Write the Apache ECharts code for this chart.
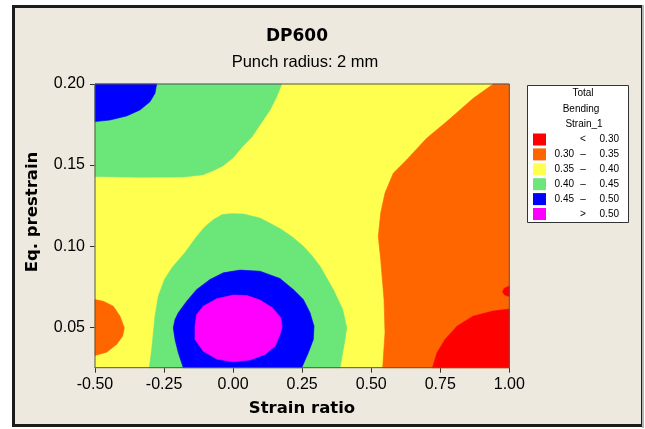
<!DOCTYPE html>
<html>
<head>
<meta charset="utf-8">
<script src="https://cdn.jsdelivr.net/npm/echarts@6/dist/echarts.min.js"></script>
<style>
  html, body { margin: 0; padding: 0; background: #ffffff; }
  #chart { width: 645px; height: 429px; }
</style>
</head>
<body>
<div id="chart"></div>
<script>
// Axis extents and ticks
const strainRatioRange = [-0.5, 1.0];
const prestrainRange = [0.025, 0.2];
const strainRatioTicks = [-0.5, -0.25, 0, 0.25, 0.5, 0.75, 1.0];
const prestrainTicks = [0.05, 0.10, 0.15, 0.20];

// Contour bands of Total Bending Strain_1
const bandColors = ['#FF0000', '#FF6600', '#FFFF50', '#6BE678', '#0000FF', '#FF00FF'];
const bandLow = ['', '0.30', '0.35', '0.40', '0.45', ''];
const bandSign = ['<', '\u2013', '\u2013', '\u2013', '\u2013', '>'];
const bandHigh = ['0.30', '0.35', '0.40', '0.45', '0.50', '0.50'];

// Region outlines as [strain ratio, eq. prestrain]
const greenTopLeft = [
  [-0.5, 0.2], [0.176, 0.2], [0.158, 0.1922], [0.1336, 0.184], [0.0974, 0.1748],
  [0.0684, 0.1674], [0.034, 0.1614], [0.0, 0.1545], [-0.0366, 0.1495],
  [-0.0728, 0.1465], [-0.109, 0.144], [-0.1814, 0.1426], [-0.3371, 0.1425], [-0.5, 0.1429]
];
const blueTopLeft = [
  [-0.5, 0.2], [-0.2766, 0.2], [-0.2828, 0.1943], [-0.3009, 0.1891], [-0.3371, 0.184],
  [-0.3853, 0.1803], [-0.4457, 0.1778], [-0.5, 0.1768]
];
const orangeLeft = [
  [-0.5, 0.067], [-0.4699, 0.066], [-0.4337, 0.0629], [-0.4095, 0.0568], [-0.3939, 0.0496],
  [-0.3997, 0.0445], [-0.4214, 0.0394], [-0.4576, 0.0346], [-0.5, 0.0326]
];
const greenCenter = [
  [-0.3034, 0.025], [-0.2947, 0.0363], [-0.2828, 0.0568], [-0.2708, 0.0691], [-0.2484, 0.0794],
  [-0.2212, 0.0867], [-0.1741, 0.096], [-0.1318, 0.106], [-0.1017, 0.112], [-0.0717, 0.1163],
  [-0.0402, 0.1194], [-0.0112, 0.12], [0.0369, 0.1198], [0.0974, 0.1173], [0.1698, 0.1108],
  [0.2133, 0.1058], [0.2542, 0.0999], [0.2857, 0.0941], [0.3146, 0.0876], [0.3628, 0.0732],
  [0.3968, 0.0609], [0.4113, 0.0496], [0.4052, 0.0424], [0.3871, 0.025]
];
const blueCenter = [
  [-0.1803, 0.025], [-0.1984, 0.0342], [-0.2103, 0.0424], [-0.2165, 0.0496], [-0.2103, 0.0547],
  [-0.1984, 0.0589], [-0.168, 0.066], [-0.1318, 0.0732], [-0.0836, 0.0794], [-0.0355, 0.0835],
  [0.025, 0.0852], [0.0974, 0.0845], [0.1698, 0.08], [0.218, 0.0732], [0.2542, 0.0671],
  [0.2785, 0.0589], [0.2929, 0.0506], [0.2904, 0.0424], [0.2723, 0.0342], [0.2484, 0.025]
];
const magentaCenter = [
  [-0.1379, 0.0506], [-0.1318, 0.0578], [-0.1079, 0.0629], [-0.0594, 0.0675], [0.0007, 0.0698],
  [0.0503, 0.0695], [0.0974, 0.0667], [0.1408, 0.0621], [0.1723, 0.056], [0.1771, 0.0507],
  [0.1723, 0.0466], [0.1517, 0.0383], [0.1155, 0.0332], [0.0612, 0.0298], [0.0007, 0.0286],
  [-0.0594, 0.0304], [-0.1079, 0.0352], [-0.1379, 0.0424]
];
const orangeRight = [
  [0.9421, 0.2], [0.8697, 0.1912], [0.7734, 0.1768], [0.701, 0.1666], [0.6285, 0.1532],
  [0.58, 0.145], [0.55, 0.1327], [0.5344, 0.1204], [0.5257, 0.106], [0.5344, 0.0917],
  [0.5464, 0.0671], [0.55, 0.0467], [0.5417, 0.025], [1.0, 0.025], [1.0, 0.2]
];
const redRight = [
  [1.0, 0.0612], [0.941, 0.0599], [0.8686, 0.0568], [0.8107, 0.0506], [0.7672, 0.0424],
  [0.7382, 0.0342], [0.722, 0.025], [1.0, 0.025]
];
const redEdge = [
  [1.0, 0.0754], [0.9808, 0.0739], [0.9754, 0.0717], [0.9837, 0.0699], [1.0, 0.0689]
];
const yellowField = [
  [strainRatioRange[0], prestrainRange[0]], [strainRatioRange[1], prestrainRange[0]],
  [strainRatioRange[1], prestrainRange[1]], [strainRatioRange[0], prestrainRange[1]]
];

// Painting order: lower layers first
const layers = [
  { pts: yellowField, band: 2 },
  { pts: greenTopLeft, band: 3 },
  { pts: blueTopLeft, band: 4 },
  { pts: orangeLeft, band: 1 },
  { pts: greenCenter, band: 3 },
  { pts: blueCenter, band: 4 },
  { pts: magentaCenter, band: 5 },
  { pts: orangeRight, band: 1 },
  { pts: redRight, band: 0 },
  { pts: redEdge, band: 0 }
];

const chart = echarts.init(document.getElementById('chart'), null, { renderer: 'canvas' });

const FONT = "'Liberation Sans', Arial, sans-serif";
const BOLD = "'DejaVu Sans', sans-serif";

const series = layers.map((layer, i) => ({
  type: 'custom',
  name: 'region' + i,
  coordinateSystem: 'cartesian2d',
  silent: true,
  animation: false,
  z: 2,
  data: [0],
  renderItem: function (params, api) {
    const points = layer.pts.map(p => api.coord(p));
    return {
      type: 'polygon',
      shape: { points: points, smooth: 0 },
      style: { fill: bandColors[layer.band], stroke: bandColors[layer.band], lineWidth: 0.6 }
    };
  }
}));

// Legend box drawn as graphics
const legendChildren = [
  { type: 'rect', shape: { x: 527.5, y: 85.5, width: 101, height: 137 },
    style: { fill: '#ffffff', stroke: '#333333', lineWidth: 1 } },
  { type: 'text', x: 583, y: 93.5, style: { text: 'Total', font: '10px ' + FONT, fill: '#000', align: 'center', verticalAlign: 'middle' } },
  { type: 'text', x: 581, y: 109, style: { text: 'Bending', font: '10px ' + FONT, fill: '#000', align: 'center', verticalAlign: 'middle' } },
  { type: 'text', x: 584, y: 124, style: { text: 'Strain_1', font: '10px ' + FONT, fill: '#000', align: 'center', verticalAlign: 'middle' } }
];
bandColors.forEach((c, i) => {
  const cy = 139.5 + i * 14.9;
  legendChildren.push({ type: 'rect', shape: { x: 533, y: cy - 6, width: 13, height: 12 }, style: { fill: c } });
  if (bandLow[i]) {
    legendChildren.push({ type: 'text', x: 574, y: cy, style: { text: bandLow[i], font: '10px ' + FONT, fill: '#000', align: 'right', verticalAlign: 'middle' } });
  }
  legendChildren.push({ type: 'text', x: 583, y: cy, style: { text: bandSign[i], font: '10px ' + FONT, fill: '#000', align: 'center', verticalAlign: 'middle' } });
  legendChildren.push({ type: 'text', x: 619, y: cy, style: { text: bandHigh[i], font: '10px ' + FONT, fill: '#000', align: 'right', verticalAlign: 'middle' } });
});

const option = {
  backgroundColor: '#ffffff',
  animation: false,
  grid: {
    left: 95, top: 84, right: 135.7, bottom: 61.3,
    show: true, borderColor: '#555555', borderWidth: 1, backgroundColor: 'transparent', z: 3
  },
  xAxis: {
    type: 'value',
    min: strainRatioRange[0], max: strainRatioRange[1], interval: 0.25,
    axisLine: { show: true, onZero: false, lineStyle: { color: '#222', width: 1 } },
    axisTick: { show: true, length: 5, lineStyle: { color: '#333' } },
    splitLine: { show: false },
    axisLabel: { color: '#000', fontFamily: FONT, fontSize: 16, margin: 9,
      formatter: v => v.toFixed(2) }
  },
  yAxis: {
    type: 'value',
    min: prestrainRange[0], max: prestrainRange[1],
    axisLine: { show: true, onZero: false, lineStyle: { color: '#222', width: 1 } },
    axisTick: { show: true, length: 5, customValues: prestrainTicks, lineStyle: { color: '#333' } },
    splitLine: { show: false },
    axisLabel: { color: '#000', fontFamily: FONT, fontSize: 16, margin: 10,
      customValues: prestrainTicks, formatter: v => v.toFixed(2) }
  },
  graphic: [
    // frame
    { type: 'rect', z: -10, shape: { x: 13.5, y: 6.5, width: 629, height: 419 },
      style: { fill: '#EEE9DF', stroke: '#1c1c1c', lineWidth: 3 } },
    { type: 'line', z: -9, shape: { x1: 643, y1: 5, x2: 643, y2: 428 },
      style: { stroke: '#b5b5b5', lineWidth: 2 } },
    { type: 'text', x: 297, y: 37, style: { text: 'DP600', font: 'bold 17px ' + BOLD, fill: '#000', align: 'center', verticalAlign: 'middle' } },
    { type: 'text', x: 305, y: 62.5, style: { text: 'Punch radius: 2 mm', font: '16.5px ' + FONT, fill: '#000', align: 'center', verticalAlign: 'middle' } },
    { type: 'text', x: 302, y: 409, style: { text: 'Strain ratio', font: 'bold 16.5px ' + BOLD, fill: '#000', align: 'center', verticalAlign: 'middle' } },
    { type: 'text', x: 33, y: 212, rotation: Math.PI / 2, style: { text: 'Eq. prestrain', font: 'bold 16.5px ' + BOLD, fill: '#000', align: 'center', verticalAlign: 'middle' } },
    { type: 'group', children: legendChildren }
  ],
  series: series
};

chart.setOption(option);
</script>
</body>
</html>
